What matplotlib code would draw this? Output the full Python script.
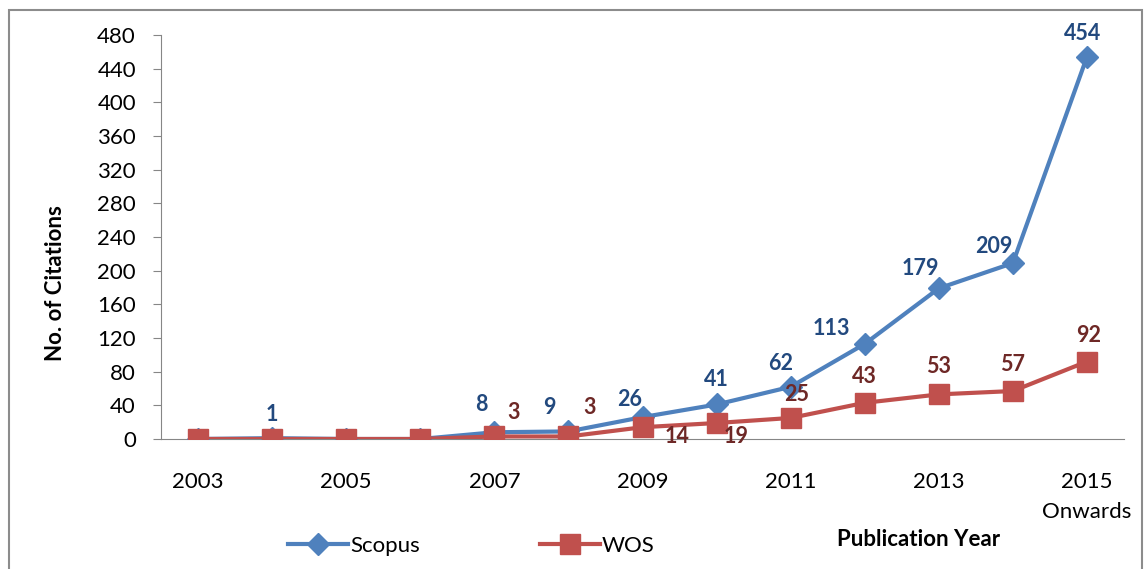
import numpy as np
import matplotlib
matplotlib.use("Agg")
import matplotlib.pyplot as plt
from matplotlib.patches import Rectangle
from matplotlib.lines import Line2D

plt.rcParams['font.family'] = ['Lato', 'DejaVu Sans']

years = ['2003', '2004', '2005', '2006', '2007', '2008', '2009', '2010',
         '2011', '2012', '2013', '2014', '2015\nOnwards']
scopus = [0, 1, 0, 0, 8, 9, 26, 41, 62, 113, 179, 209, 454]
wos = [0, 0, 0, 0, 3, 3, 14, 19, 25, 43, 53, 57, 92]

# label offsets in points (dx, dy); None = no label
scopus_off = [None, (0, 17), None, None, (-9, 20), (-14, 17), (-9, 13), (0, 18),
              (-7, 17), (-24, 11), (-13, 14), (-14, 12), (-3, 17)]
wos_off = [None, None, None, None, (14, 17), (15, 21), (25, -7), (14, -10),
           (4, 17), (0, 19), (0, 20), (0, 19), (1, 19)]

blue = '#4F81BD'
red = '#C0504D'
blue_txt = '#22497E'
red_txt = '#6E2826'

fig = plt.figure(figsize=(11.47, 5.69), dpi=100)
ax = fig.add_axes([161 / 1147, 1 - 439 / 569, (1124 - 161) / 1147, (439 - 35) / 569])

x = np.arange(len(years))
ax.plot(x, scopus, color=blue, lw=3, marker='D', ms=11, mec=blue, zorder=3)
ax.plot(x, wos, color=red, lw=3, marker='s', ms=14, mec=red, zorder=4)

for i in range(len(x)):
    if scopus_off[i] is not None:
        ax.annotate(str(scopus[i]), (x[i], scopus[i]), xytext=scopus_off[i],
                    textcoords='offset points', ha='center', va='center',
                    fontsize=15.5, fontweight='bold', color=blue_txt, zorder=5)
    if wos_off[i] is not None:
        ax.annotate(str(wos[i]), (x[i], wos[i]), xytext=wos_off[i],
                    textcoords='offset points', ha='center', va='center',
                    fontsize=15.5, fontweight='bold', color=red_txt, zorder=5)

ax.set_xlim(-0.5, len(years) - 0.5)
ax.set_ylim(0, 480)
ax.set_yticks(np.arange(0, 481, 40))
ax.set_xticks(x[::2])
ax.set_xticklabels(years[::2])
ax.tick_params(axis='y', labelsize=16, length=6, color='#868686', pad=12)
ax.tick_params(axis='x', labelsize=16, length=0, pad=24)
for t in ax.get_xticklabels():
    t.set_linespacing(1.6)
for s in ['top', 'right']:
    ax.spines[s].set_visible(False)
ax.spines['left'].set_color('#868686')
ax.spines['bottom'].set_color('#868686')
ax.patch.set_alpha(0)

fig.text(56 / 1147, 1 - 283 / 569, 'No. of Citations', rotation=90, ha='center',
         va='center', fontsize=16, fontweight='bold')
fig.text(919 / 1147, 1 - 539 / 569, 'Publication Year', ha='center', va='center',
         fontsize=16, fontweight='bold')

handles = [Line2D([], [], color=blue, lw=3, marker='D', ms=11),
           Line2D([], [], color=red, lw=3, marker='s', ms=14)]
fig.legend(handles[:1], ['Scopus'], loc='center', bbox_to_anchor=(354 / 1147, 1 - 546 / 569),
           frameon=False, fontsize=16, handlelength=2.7, handletextpad=0.1)
fig.legend(handles[1:], ['WOS'], loc='center', bbox_to_anchor=(597 / 1147, 1 - 546 / 569),
           frameon=False, fontsize=16, handlelength=2.7, handletextpad=0.1)

fig.patches.append(Rectangle((9 / 1147, -0.01), (1142 - 9) / 1147, 1 - 10 / 569 + 0.01,
                             transform=fig.transFigure, fill=False, edgecolor='#8c8c8c', lw=1.5))

fig.savefig('out.png', dpi=100)
